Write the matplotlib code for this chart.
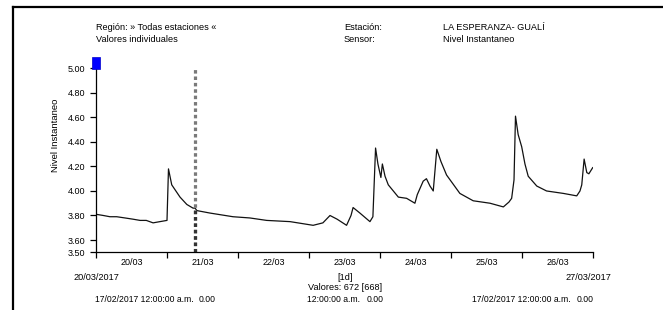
import matplotlib
matplotlib.use("Agg")
import matplotlib.pyplot as plt
from matplotlib.lines import Line2D
from matplotlib.patches import Rectangle
import numpy as np

plt.rcParams['font.family'] = ['Liberation Sans', 'DejaVu Sans']

# ---- data (hours since 20/03/2017 00:00, level in m) ----
hours = [0.0, 2.5, 4.7, 7.0, 9.8, 12.5, 14.9, 17.0, 19.3, 21.6, 24.0,
         24.5, 25.6, 27.0, 28.4, 30.7, 32.8, 33.5, 34.1, 38.5, 46.3, 52.0,
         57.7, 65.6, 73.4, 76.7, 79.1, 81.5, 84.7, 86.2, 86.9, 89.2, 92.6,
         93.6, 94.5, 95.3, 96.3, 96.8, 97.7, 98.8, 102.2, 105.0, 107.8,
         108.6, 110.6, 111.7, 112.9, 114.0, 115.2, 116.6, 118.5, 120.3,
         123.0, 127.5, 133.2, 137.7, 139.6, 140.5, 141.3, 141.8, 142.7,
         143.9, 145.0, 146.1, 149.0, 152.3, 158.0, 162.5, 163.6, 164.2,
         165.0, 165.9, 166.6, 167.9]
nivel = [3.81, 3.80, 3.79, 3.79, 3.78, 3.77, 3.76, 3.76, 3.74, 3.75, 3.76,
         4.18, 4.05, 4.00, 3.95, 3.89, 3.86, 3.86, 3.84, 3.82, 3.79, 3.78,
         3.76, 3.75, 3.72, 3.74, 3.80, 3.77, 3.72, 3.80, 3.865, 3.82, 3.75,
         3.79, 4.35, 4.22, 4.11, 4.22, 4.12, 4.05, 3.95, 3.94, 3.90,
         3.97, 4.08, 4.10, 4.04, 4.00, 4.34, 4.24, 4.13, 4.07,
         3.98, 3.92, 3.90, 3.87, 3.91, 3.94, 4.09, 4.61, 4.46,
         4.36, 4.22, 4.12, 4.04, 4.00, 3.98, 3.96, 4.00, 4.05,
         4.26, 4.15, 4.14, 4.19]
day_labels = ["20/03", "21/03", "22/03", "23/03", "24/03", "25/03", "26/03"]
y_ticks = [3.50, 3.60, 3.80, 4.00, 4.20, 4.40, 4.60, 4.80, 5.00]
marker_day = 1.394  # vertical cursor position (days)

W, H = 663, 310
fig = plt.figure(figsize=(W / 100, H / 100), dpi=100)

def fx(x):
    return x / W

def fy(y):
    return 1 - y / H

ax = fig.add_axes([fx(96), fy(252.3), fx(593) - fx(96), fy(68.3) - fy(252.3)])
days = np.array(hours) / 24.0
ax.plot(days, nivel, color='#111111', lw=0.9, solid_joinstyle='round')

# vertical cursor line
vl = Line2D([marker_day, marker_day], [3.50, 5.00], color='#7a7a7a', lw=2.3)
vl.set_dashes([1.1, 0.9])
ax.add_line(vl)
vl2 = Line2D([marker_day, marker_day], [3.50, 3.855], color='#333333', lw=2.3)
vl2.set_dashes([1.1, 0.9])
ax.add_line(vl2)

ax.set_xlim(0, 7)
ax.set_ylim(3.50, 5.00)
for s in ['top', 'right']:
    ax.spines[s].set_visible(False)
for s in ['left', 'bottom']:
    ax.spines[s].set_linewidth(0.9)

ax.set_yticks(y_ticks)
ax.set_yticklabels([f"{v:.2f}" for v in y_ticks], fontsize=6.5)
ax.set_xticks(range(8))
ax.set_xticklabels([""] * 8)
ax.set_xticks([i + 0.5 for i in range(7)], minor=True)
ax.set_xticklabels(day_labels, minor=True, fontsize=6.5)
ax.tick_params(axis='x', which='minor', length=0, pad=4)
ax.tick_params(axis='both', which='major', length=4.3, width=0.9, direction='out')
ax.tick_params(axis='y', pad=3.5)

# blue marker at top-left
fig.patches.append(Rectangle((fx(92), fy(69)), fx(100) - fx(92), fy(57) - fy(69),
                             transform=fig.transFigure, facecolor='#0000ff',
                             edgecolor='#0000cc', lw=0.5))

# frame
fig.lines.append(Line2D([fx(12.5), fx(12.5)], [fy(7), fy(312)], color='black',
                        lw=1.6, transform=fig.transFigure))
fig.lines.append(Line2D([fx(12.5), fx(665)], [fy(7), fy(7)], color='black',
                        lw=1.6, transform=fig.transFigure))

fs = 6.6
def t(x, y, s, ha='left', size=fs, **kw):
    fig.text(fx(x), fy(y), s, ha=ha, va='center', fontsize=size, **kw)

t(96, 27, "Región: » Todas estaciones «")
t(96, 40, "Valores individuales")
t(344, 27, "Estación:")
t(344, 40, "Sensor:")
t(443, 27, "LA ESPERANZA- GUALÍ")
t(443, 40, "Nivel Instantaneo")

fig.text(fx(55), fy(135), "Nivel Instantaneo", rotation=90, ha='center',
         va='center', fontsize=6.8, fontweight='medium')

t(96, 277, "20/03/2017", ha='center')
t(588, 277, "27/03/2017", ha='center')
t(345, 277, "[1d]", ha='center')
t(345, 288, "Valores: 672 [668]", ha='center')
bs = 6.2
t(95, 299, "17/02/2017 12:00:00 a.m.", size=bs)
t(199, 299, "0.00", size=bs)
t(307, 299, "12:00:00 a.m.", size=bs)
t(367, 299, "0.00", size=bs)
t(472, 299, "17/02/2017 12:00:00 a.m.", size=bs)
t(577, 299, "0.00", size=bs)

fig.savefig("out.png", dpi=100)
